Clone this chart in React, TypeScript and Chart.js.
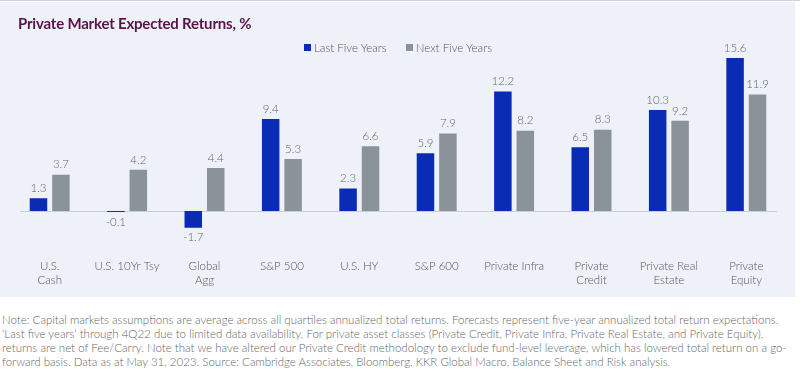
import React, { useEffect, useRef } from "react";
import { Chart, registerables } from "chart.js";

Chart.register(...registerables);

const categories: (string | string[])[] = [
  ["U.S.", "Cash"],
  "U.S. 10Yr Tsy",
  ["Global", "Agg"],
  "S&P 500",
  "U.S. HY",
  "S&P 600",
  "Private Infra",
  ["Private", "Credit"],
  ["Private Real", "Estate"],
  ["Private", "Equity"],
];
const lastFiveYears = [1.3, -0.1, -1.7, 9.4, 2.3, 5.9, 12.2, 6.5, 10.3, 15.6];
const nextFiveYears = [3.7, 4.2, 4.4, 5.3, 6.6, 7.9, 8.2, 8.3, 9.2, 11.9];
const seriesNames = ["Last Five Years", "Next Five Years"];

const BLUE = "#0a2bb3";
const GRAY = "#8a9399";
const FONT = "Lato, 'Open Sans', sans-serif";

const noteLines = [
  "Note: Capital markets assumptions are average across all quartiles annualized total returns. Forecasts represent five-year annualized total return expectations.",
  "\u2018Last five years\u2019 through 4Q22 due to limited data availability. For private asset classes (Private Credit, Private Infra, Private Real Estate, and Private Equity),",
  "returns are net of Fee/Carry. Note that we have altered our Private Credit methodology to exclude fund-level leverage, which has lowered total return on a go-",
  "forward basis. Data as at May 31, 2023. Source: Cambridge Associates, Bloomberg, KKR Global Macro, Balance Sheet and Risk analysis.",
];

const valueLabels = {
  id: "valueLabels",
  afterDatasetsDraw(chart: any) {
    const ctx = chart.ctx;
    ctx.save();
    ctx.font = `300 11.5px ${FONT}`;
    ctx.fillStyle = "#5f636a";
    ctx.textAlign = "center";
    ctx.textBaseline = "middle";
    chart.data.datasets.forEach((ds: any, di: number) => {
      const meta = chart.getDatasetMeta(di);
      meta.data.forEach((el: any, i: number) => {
        const v = ds.data[i];
        const y = v >= 0 ? el.y - 10 : el.y + 10;
        ctx.fillText(String(v), el.x, y);
      });
    });
    ctx.restore();
  },
};

const zeroLine = {
  id: "zeroLine",
  beforeDatasetsDraw(chart: any) {
    const ctx = chart.ctx;
    const y = chart.scales.y.getPixelForValue(0);
    ctx.save();
    ctx.strokeStyle = "#c9cdd4";
    ctx.lineWidth = 1;
    ctx.beginPath();
    ctx.moveTo(chart.chartArea.left + 9, Math.round(y) + 0.5);
    ctx.lineTo(chart.chartArea.right - 8, Math.round(y) + 0.5);
    ctx.stroke();
    ctx.restore();
  },
};

export default function App() {
  const ref = useRef<HTMLCanvasElement>(null);
  useEffect(() => {
    if (!ref.current) return;
    const chart = new Chart(ref.current, {
      type: "bar",
      data: {
        labels: categories,
        datasets: [
          {
            label: seriesNames[0],
            data: lastFiveYears,
            backgroundColor: BLUE,
            categoryPercentage: 0.58,
            barPercentage: 0.78,
          },
          {
            label: seriesNames[1],
            data: nextFiveYears,
            backgroundColor: GRAY,
            categoryPercentage: 0.58,
            barPercentage: 0.78,
          },
        ],
      },
      options: {
        responsive: false,
        animation: false,
        devicePixelRatio: 1,
        layout: { padding: { left: 11, right: 15, top: 44.4, bottom: 9.6 } },
        plugins: { legend: { display: false }, tooltip: { enabled: false } },
        scales: {
          y: { display: false, min: -3, max: 17 },
          x: {
            grid: { display: false, drawTicks: false },
            border: { display: false },
            afterFit: (scale: any) => {
              scale.height = 47;
            },
            ticks: {
              padding: 19.4,
              color: "#50555c",
              font: { family: FONT, size: 11.5, lineHeight: 1.2, weight: "300" },
              maxRotation: 0,
              autoSkip: false,
            },
          },
        },
      },
      plugins: [zeroLine, valueLabels],
    });
    return () => chart.destroy();
  }, []);

  return (
    <div style={{ position: "absolute", left: 0, top: 0, width: 800, height: 386, background: "#fff", fontFamily: FONT, overflow: "hidden" }}>
      <div style={{ position: "absolute", left: 0, top: 0, width: 800, height: 1, background: "#cfd3da" }} />
      <div style={{ position: "absolute", left: 0, top: 2, width: 795, height: 295, background: "#eef2f8" }} />
      <canvas ref={ref} width={800} height={297} style={{ position: "absolute", left: 0, top: 0 }} />
      <div style={{ position: "absolute", left: 18, top: 14, fontSize: 15, fontWeight: 700, color: "#5a1249", whiteSpace: "nowrap", letterSpacing: -0.2 }}>
        Private Market Expected Returns, %
      </div>
      <div style={{ position: "absolute", left: 304, top: 41, fontSize: 11.5, fontWeight: 300, color: "#50555c", whiteSpace: "nowrap", display: "flex", alignItems: "center" }}>
        <span style={{ display: "inline-block", width: 7, height: 7, background: BLUE, marginRight: 3 }} />
        <span>{seriesNames[0]}</span>
        <span style={{ display: "inline-block", width: 7, height: 7, background: GRAY, marginLeft: 19, marginRight: 3 }} />
        <span>{seriesNames[1]}</span>
      </div>
      <div style={{ position: "absolute", left: 2, top: 313, fontSize: 11.5, fontWeight: 300, lineHeight: "14px", color: "#64676c", whiteSpace: "nowrap" }}>
        {noteLines.map((l, i) => (
          <div key={i}>{l}</div>
        ))}
      </div>
    </div>
  );
}
